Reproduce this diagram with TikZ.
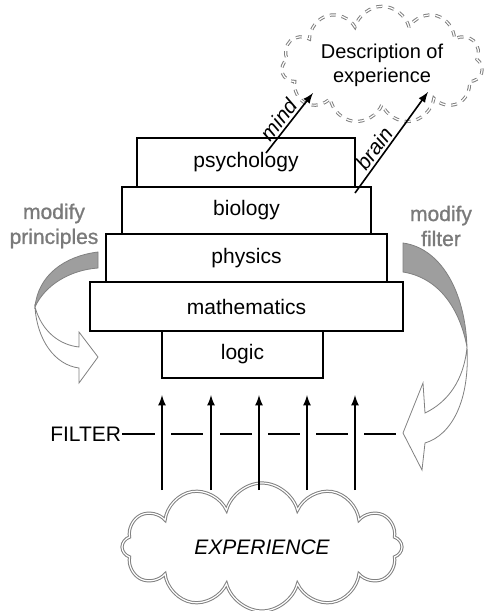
\documentclass[tikz,border=0pt]{standalone}
\usepackage{fontspec}
\setmainfont{Liberation Sans}
\usepackage{tikz}
\usetikzlibrary{shapes.symbols}

\begin{document}
\begin{tikzpicture}[x=0.5pt, y=-0.5pt, >=latex, line width=0.9pt,
                font=\fontsize{10.5}{12.5}\selectfont,
                bend band/.style={draw=gray, line width=0.4pt, fill=black!38},
                bend head/.style={draw=gray, line width=0.4pt, fill=white},
                grey label/.style={text=black!52, align=center,
                    font=\fontsize{10.5}{12.5}\selectfont\addfontfeature{FakeBold=1}}]
                \useasboundingbox (0,0) rectangle (487,611);

                \node[cloud, cloud puffs=11, cloud ignores aspect,
                    minimum width=100pt, minimum height=55pt,
                    draw=gray, line width=0.5pt, dashed, double, align=center,
                    font=\fontsize{10}{12}\selectfont] (desc) at (382,65)
                    {Description of\\experience};

                \draw[] (137,138) rectangle (355,187)
                    node[midway] (psy) {psychology};
                \draw[] (122,187) rectangle (371,234)
                    node[midway] (bio) {biology};
                \draw[] (106,234) rectangle (387,282)
                    node[midway] (phys) {physics};
                \draw[] (90,282) rectangle (403,331)
                    node[midway] (math) {mathematics};
                \draw[] (162,331) rectangle (323,378)
                    node[midway] (logic) {logic};

                \coordinate (mindfrom) at (266,153);
                \coordinate (mindto) at (313,93);
                \coordinate (brainfrom) at (355,193);
                \coordinate (brainto) at (428,92);
                \draw[->, line width=0.8pt] (mindfrom) -- (mindto)
                    node[pos=0.45, sloped, above, inner sep=1pt] (mind) {\itshape mind};
                \draw[->, line width=0.8pt] (brainfrom) -- (brainto)
                    node[pos=0.38, sloped, above, inner sep=1pt] (brain) {\itshape brain};

                \node[grey label] (modp) at (54,226) {modify\\principles};
                \node[grey label] (modf) at (441,226) {modify\\filter};

                \draw[bend band] (98,252) .. controls (65,256) and (38,275) .. (35,307)
                    .. controls (45,285) and (70,270) .. (98,268) -- cycle;
                \draw[bend head] (35,307) .. controls (37,340) and (55,365) .. (79,368)
                    -- (79,383) -- (98,357) -- (79,332) -- (79,347)
                    .. controls (60,345) and (42,332) .. (35,307) -- cycle;

                \draw[bend band] (403,243) .. controls (440,248) and (465,290) .. (467,347)
                    .. controls (460,310) and (440,278) .. (403,272) -- cycle;
                \draw[bend head] (467,347) .. controls (470,400) and (452,435) .. (425,443)
                    -- (422,470) -- (403,433) -- (423,383) -- (425,413)
                    .. controls (448,402) and (464,380) .. (467,347) -- cycle;

                \node[anchor=east, inner sep=0pt] (filter) at (122,434) {FILTER};
                \draw[] (filter.east) -- (155,434);

                \node[cloud, cloud puffs=12, cloud ignores aspect,
                    minimum width=140pt, minimum height=64pt,
                    draw=gray, line width=0.5pt, double] (exp) at (262,547)
                    {\itshape EXPERIENCE};

                \foreach \x in {162,211,259,307,355} {
                    \coordinate (lo\x) at (\x,490);
                    \coordinate (hi\x) at (\x,395);
                    \draw[->, line width=0.8pt] (lo\x) -- (hi\x);
                    \draw[] (\x+9,434) -- (\x+41,434);
                }
            \end{tikzpicture}
\end{document}
